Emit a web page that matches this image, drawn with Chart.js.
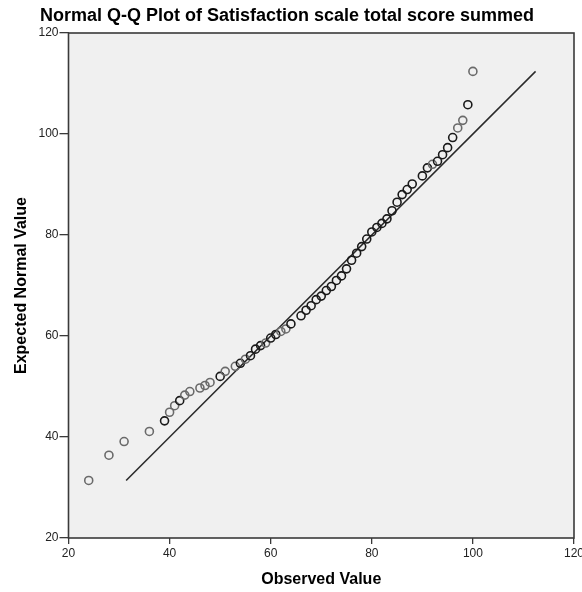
<!DOCTYPE html>
<html>
<head>
<meta charset="utf-8">
<script src="https://cdn.jsdelivr.net/npm/chart.js@4.4.1/dist/chart.umd.min.js"></script>
<style>
  html, body { margin: 0; padding: 0; background: #fff; }
  canvas { display: block; }
</style>
</head>
<body>
<canvas id="qq" width="582" height="592"></canvas>
<script>
// observed score (x) and its expected normal value (y)
const observed = [24, 28, 31, 36, 39, 40, 41, 42, 43, 44, 46, 47, 48, 50, 51,
  53, 54, 55, 56, 57, 58, 59, 60, 61, 62, 63, 64, 66, 67, 68,
  69, 70, 71, 72, 73, 74, 75, 76, 77, 78, 79, 80, 81, 82, 83,
  84, 85, 86, 87, 88, 90, 91, 92, 93, 94, 95, 96, 97, 98, 99, 100]
const expected = [31.4, 36.4, 39.1, 41.1, 43.2, 44.9, 46.2, 47.2, 48.3, 49.0, 49.7, 50.2, 50.8, 52.0, 53.0,
  54.0, 54.6, 55.4, 56.1, 57.4, 58.1, 58.6, 59.6, 60.3, 60.9, 61.4, 62.4, 64.0, 65.1, 66.0,
  67.2, 67.9, 69.0, 69.8, 71.0, 71.9, 73.3, 75.0, 76.4, 77.7, 79.2, 80.6, 81.5, 82.3, 83.2,
  84.8, 86.5, 88.0, 89.0, 90.1, 91.7, 93.3, 94.0, 94.6, 95.9, 97.3, 99.3, 101.2, 102.7, 105.8, 112.4]
// cases sharing the score (circles overdrawn -> darker)
const ties = [1, 1, 1, 1, 2, 1, 1, 2, 1, 1, 1, 1, 1, 2, 1,
  1, 2, 1, 2, 2, 2, 1, 2, 2, 1, 1, 2, 2, 2, 2,
  2, 2, 2, 2, 2, 2, 2, 2, 2, 2, 2, 2, 2, 2, 2,
  2, 2, 2, 2, 2, 2, 2, 1, 2, 2, 2, 2, 1, 1, 2, 1]
const axisTicks = [20, 40, 60, 80, 100, 120]

const points = observed.map((v, i) => ({ x: v, y: expected[i] }))
const lineLo = Math.min(...expected)
const lineHi = Math.max(...expected)

const font = 'Liberation Sans, Arial, Helvetica, sans-serif'

// grey plot panel and the frame round it
const panel = {
  id: 'panel',
  beforeDraw(chart) {
    const { ctx, chartArea: a } = chart
    ctx.save()
    ctx.fillStyle = '#f0f0f0'
    ctx.fillRect(a.left, a.top, a.right - a.left, a.bottom - a.top)
    ctx.restore()
  },
  beforeDatasetsDraw(chart) {
    const { ctx, chartArea: a } = chart
    ctx.save()
    ctx.strokeStyle = '#3a3a3a'
    ctx.lineWidth = 1.6
    ctx.strokeRect(a.left, a.top, a.right - a.left, a.bottom - a.top)
    ctx.restore()
  }
}

function setTicks(scale) {
  scale.ticks = axisTicks.map(v => ({ value: v }))
}

new Chart(document.getElementById('qq'), {
  type: 'scatter',
  plugins: [panel],
  data: {
    datasets: [
      {
        type: 'line',
        data: [{ x: lineLo, y: lineLo }, { x: lineHi, y: lineHi }],
        borderColor: '#2a2a2a',
        borderWidth: 1.5,
        pointRadius: 0,
        fill: false,
        order: 2
      },
      {
        data: points,
        pointStyle: 'circle',
        pointRadius: 4,
        borderWidth: 1.6,
        backgroundColor: 'rgba(0,0,0,0)',
        pointBorderColor: ties.map(t => t > 1 ? '#1a1a1a' : '#6a6a6a'),
        order: 1
      }
    ]
  },
  options: {
    responsive: false,
    animation: false,
    devicePixelRatio: 1,
    layout: { padding: { top: 0, right: 8, bottom: 0, left: 0 } },
    plugins: {
      legend: { display: false },
      tooltip: { enabled: false },
      title: {
        display: true,
        text: 'Normal Q-Q Plot of Satisfaction scale total score summed',
        color: '#000',
        font: { family: font, size: 18, weight: 'bold' },
        padding: { top: 5, bottom: 6.4 }
      }
    },
    scales: {
      x: {
        type: 'linear',
        min: 20,
        max: 120,
        afterBuildTicks: setTicks,
        afterFit(scale) {
          scale.height = 54
          scale.paddingLeft = 0
          scale.paddingRight = 0
        },
        border: { display: false },
        grid: { drawOnChartArea: false, drawTicks: true, tickLength: 6, color: '#3a3a3a', lineWidth: 1.3 },
        ticks: { color: '#222', padding: 2, maxRotation: 0, font: { family: font, size: 12 } },
        title: {
          display: true,
          text: 'Observed Value',
          color: '#000',
          font: { family: font, size: 16, weight: 'bold' },
          padding: { top: 0, bottom: 2.4 }
        }
      },
      y: {
        type: 'linear',
        min: 20,
        max: 120,
        afterBuildTicks: setTicks,
        afterFit(scale) {
          scale.width = 68.5
          scale.paddingTop = 0
          scale.paddingBottom = 0
        },
        border: { display: false },
        grid: { drawOnChartArea: false, drawTicks: true, tickLength: 9, color: '#3a3a3a', lineWidth: 1.3 },
        ticks: { color: '#222', padding: 1, font: { family: font, size: 12 } },
        title: {
          display: true,
          text: 'Expected Normal Value',
          color: '#000',
          font: { family: font, size: 16, weight: 'bold' },
          padding: { top: 12, bottom: 0 }
        }
      }
    }
  }
})
</script>
</body>
</html>
